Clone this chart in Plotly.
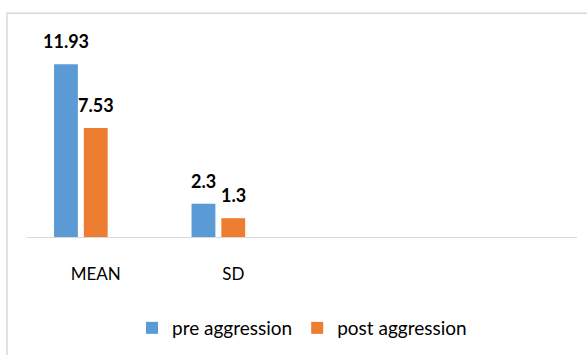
import plotly.graph_objects as go

categories = ["MEAN", "SD"]
pre_aggression = [11.93, 2.3]
post_aggression = [7.53, 1.3]
spare_series = [None, None]

BLUE = "#5B9BD5"
ORANGE = "#ED7D31"
FONT = "Lato, Carlito, Calibri, sans-serif"

fig = go.Figure()
fig.add_trace(go.Bar(
    x=categories, y=pre_aggression, name="pre aggression",
    marker=dict(color=BLUE, line=dict(width=0)),
))
fig.add_trace(go.Bar(
    x=categories, y=post_aggression, name="post aggression",
    marker=dict(color=ORANGE, line=dict(width=0)),
))
fig.add_trace(go.Bar(
    x=categories, y=spare_series, name="series 3",
    marker=dict(color="#A5A5A5"), showlegend=False,
))

# value labels above each bar; bars sit in 30px slots within each group
annotations = []
for values, shift in ((pre_aggression, -30), (post_aggression, 0)):
    for cat, v in zip(categories, values):
        annotations.append(dict(
            x=cat, y=v, xref="x", yref="y", text=f"<b>{v}</b>",
            showarrow=False, xanchor="center", yanchor="bottom",
            xshift=shift, yshift=10,
            font=dict(family=FONT, size=18, color="#000000"),
        ))

fig.update_layout(
    width=587, height=355,
    margin=dict(l=27, r=10, t=38, b=117),
    paper_bgcolor="white", plot_bgcolor="white",
    barmode="group", bargap=0.35, bargroupgap=0.2,
    font=dict(family=FONT, size=17, color="#000000"),
    showlegend=True,
    legend=dict(
        orientation="h", x=0.5, xanchor="center", y=-0.355, yanchor="top",
        font=dict(family=FONT, size=19, color="#000000"),
        itemwidth=30, traceorder="normal",
    ),
    xaxis=dict(
        type="category", range=[-0.5, 3.5],
        showline=True, linecolor="#D9D9D9", linewidth=1,
        showgrid=False, ticks="", ticklabelstandoff=22,
        tickfont=dict(family=FONT, size=17, color="#000000"),
    ),
    yaxis=dict(
        range=[0, 13.75], visible=False, showgrid=False, zeroline=False,
    ),
    annotations=annotations,
    shapes=[dict(
        type="rect", xref="paper", yref="paper",
        x0=-0.0364, x1=1.03, y0=-0.65, y1=1.125,
        line=dict(color="#D9D9D9", width=1.5), fillcolor="rgba(0,0,0,0)",
        layer="below",
    )],
)

fig.write_html("out.html")
